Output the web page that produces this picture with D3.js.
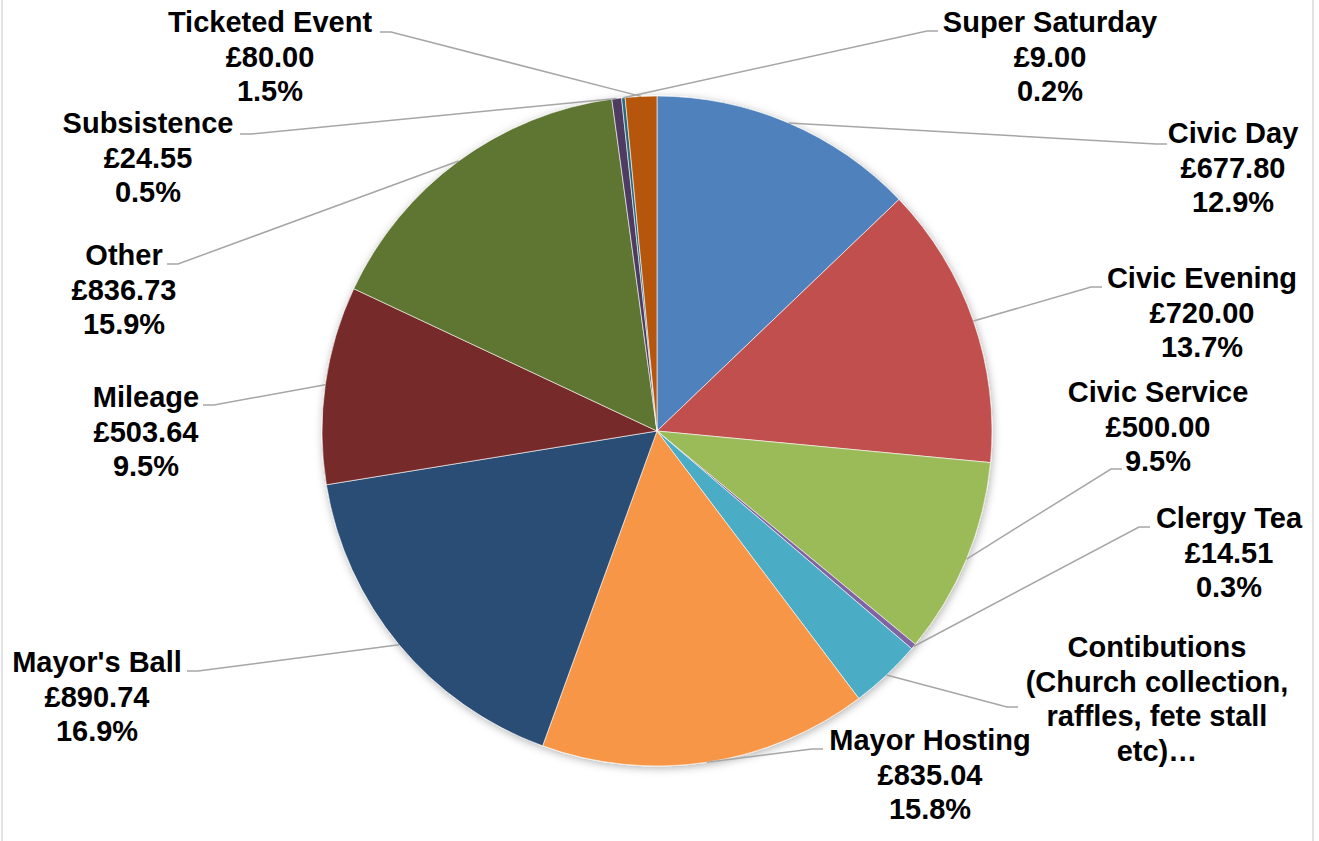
<!DOCTYPE html>
<html>
<head>
<meta charset="utf-8">
<script src="https://cdn.jsdelivr.net/npm/d3@7"></script>
<style>
  body { margin: 0; background: #fff; }
  svg { display: block; }
  .label text { font-family: "Liberation Sans", Arial, sans-serif; font-weight: bold; font-size: 29px; fill: #000; }
</style>
</head>
<body>
<div id="d3-container"></div>
<script>
/**
 * DATA
 * */
const categories = [
  "Civic Day", "Civic Evening", "Civic Service", "Clergy Tea",
  "Contibutions (Church collection, raffles, fete stall etc)",
  "Mayor Hosting", "Mayor's Ball", "Mileage", "Other",
  "Subsistence", "Super Saturday", "Ticketed Event"
];
const amounts = [677.80, 720.00, 500.00, 14.51, 182.20, 835.04, 890.74, 503.64, 836.73, 24.55, 9.00, 80.00];
// label text as shown on the chart (contributions label is cut off in the original)
const labelNames = [
  ["Civic Day"], ["Civic Evening"], ["Civic Service"], ["Clergy Tea"],
  ["Contibutions", "(Church collection,", "raffles, fete stall", "etc)…"],
  ["Mayor Hosting"], ["Mayor's Ball"], ["Mileage"], ["Other"],
  ["Subsistence"], ["Super Saturday"], ["Ticketed Event"]
];
const showValues = [true, true, true, true, false, true, true, true, true, true, true, true];
const colors = ["#4F81BD", "#C0504D", "#9BBB59", "#8064A2", "#4BACC6", "#F79646",
                "#2C4D75", "#772C2A", "#5F7530", "#4D3B62", "#276A7C", "#B65708"];

/**
 * LAYOUT
 * */
const width = 1319,
  height = 841,
  center = { x: 657, y: 431 },
  radius = 335,
  lineHeight = 34.5;

// label placement: text centre x, first baseline y, hook end point, which side the text sits
const labelLayout = [
  { x: 1233, y: 143, ex: 1167, ey: 144, side: "right" },
  { x: 1202, y: 288, ex: 1102, ey: 287, side: "right" },
  { x: 1158, y: 402, ex: 1122, ey: 469, side: "right" },
  { x: 1229, y: 528, ex: 1150, ey: 527, side: "right" },
  { x: 1157, y: 657, ex: 1018, ey: 707, side: "right" },
  { x: 930,  y: 750, ex: 823,  ey: 749, side: "right" },
  { x: 97,   y: 672, ex: 187,  ey: 671, side: "left" },
  { x: 146,  y: 407, ex: 203,  ey: 405, side: "left" },
  { x: 124,  y: 265, ex: 167,  ey: 264, side: "left" },
  { x: 148,  y: 133, ex: 240,  ey: 134, side: "left" },
  { x: 1050, y: 32,  ex: 938,  ey: 31,  side: "right" },
  { x: 270,  y: 32,  ex: 380,  ey: 32,  side: "left" }
];

const data = categories.map((c, i) => ({
  name: c,
  value: amounts[i],
  lines: labelNames[i],
  showValue: showValues[i],
  color: colors[i],
  layout: labelLayout[i]
}));

const total = d3.sum(amounts);

/**
 * DRAW
 * */
const svg = d3.select("#d3-container")
  .append("svg")
  .attr("width", width)
  .attr("height", height);

// shadow like the excel one
const defs = svg.append("defs");
const filter = defs.append("filter")
  .attr("id", "shadow")
  .attr("x", "-10%").attr("y", "-10%")
  .attr("width", "120%").attr("height", "120%");
filter.append("feDropShadow")
  .attr("dx", 1)
  .attr("dy", 2)
  .attr("stdDeviation", 4)
  .attr("flood-color", "#000")
  .attr("flood-opacity", 0.3);

// chart area border
svg.append("rect")
  .attr("x", 2)
  .attr("y", -5)
  .attr("width", 1311)
  .attr("height", height + 10)
  .attr("fill", "#fff")
  .attr("stroke", "#d9d9d9")
  .attr("stroke-width", 1.5);

const pie = d3.pie()
  .sort(null)
  .value(d => d.value);

const arcs = pie(data);

const arc = d3.arc()
  .innerRadius(0)
  .outerRadius(radius);

const g = svg.append("g")
  .attr("transform", `translate(${center.x}, ${center.y})`);

g.append("g")
  .attr("filter", "url(#shadow)")
  .selectAll("path")
  .data(arcs)
  .join("path")
  .attr("d", arc)
  .attr("fill", d => d.data.color)
  .attr("stroke", "#fff")
  .attr("stroke-width", 0.6);

// leader lines
const leaderPoint = d => {
  const a = (d.startAngle + d.endAngle) / 2;
  return [center.x + radius * Math.sin(a), center.y - radius * Math.cos(a)];
};

svg.append("g")
  .selectAll("polyline")
  .data(arcs)
  .join("polyline")
  .attr("points", d => {
    const L = d.data.layout;
    const p = leaderPoint(d);
    const hx = L.side === "right" ? L.ex - 11 : L.ex + 11;
    return [p, [hx, L.ey], [L.ex, L.ey]].map(q => q.join(",")).join(" ");
  })
  .attr("fill", "none")
  .attr("stroke", "#a6a6a6")
  .attr("stroke-width", 1.5);

// labels
const labels = svg.append("g")
  .selectAll("g.label")
  .data(arcs)
  .join("g")
  .attr("class", "label");

labels.append("text")
  .attr("text-anchor", "middle")
  .attr("x", d => d.data.layout.x)
  .attr("y", d => d.data.layout.y)
  .selectAll("tspan")
  .data(d => {
    const lines = d.data.lines.slice();
    if (d.data.showValue) {
      lines.push("£" + d3.format(",.2f")(d.data.value));
      lines.push((d.data.value / total * 100).toFixed(1) + "%");
    }
    return lines.map((t, i) => ({ t, i, x: d.data.layout.x, y: d.data.layout.y }));
  })
  .join("tspan")
  .attr("x", d => d.x)
  .attr("y", d => d.y + d.i * lineHeight)
  .text(d => d.t);
</script>
</body>
</html>
